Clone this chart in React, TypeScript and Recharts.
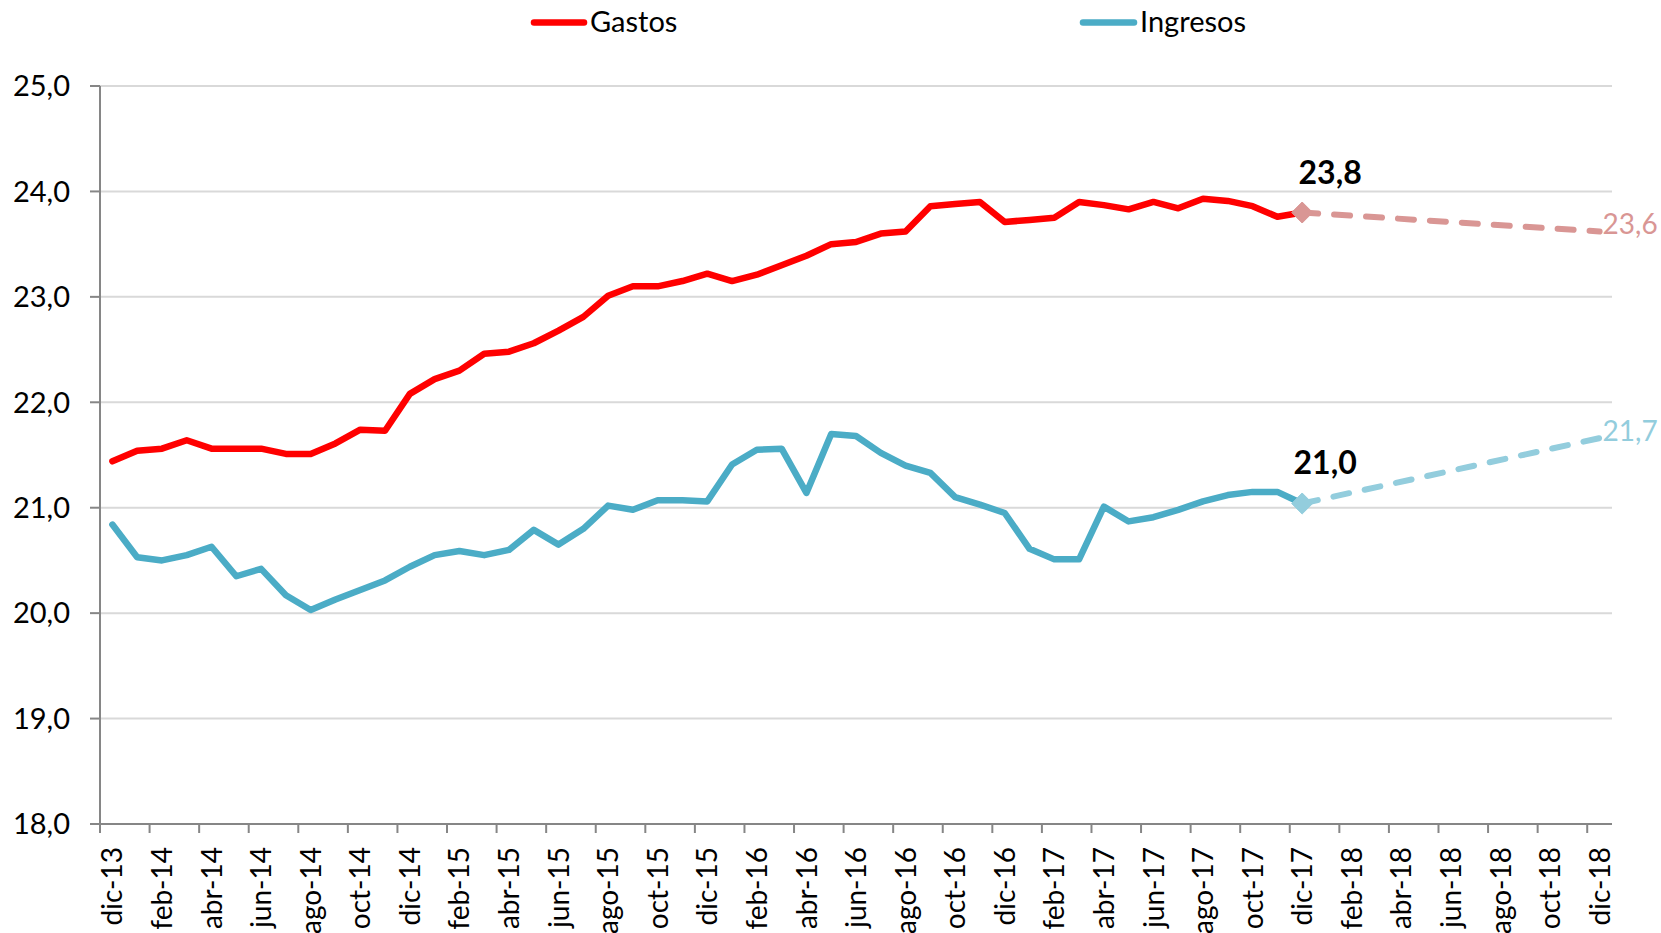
import React from 'react';
import { LineChart, Line, XAxis, YAxis, CartesianGrid, Legend } from 'recharts';

const meses = [
  'dic-13', 'ene-14', 'feb-14', 'mar-14', 'abr-14', 'may-14', 'jun-14', 'jul-14', 'ago-14', 'sep-14', 'oct-14', 'nov-14',
  'dic-14', 'ene-15', 'feb-15', 'mar-15', 'abr-15', 'may-15', 'jun-15', 'jul-15', 'ago-15', 'sep-15', 'oct-15', 'nov-15',
  'dic-15', 'ene-16', 'feb-16', 'mar-16', 'abr-16', 'may-16', 'jun-16', 'jul-16', 'ago-16', 'sep-16', 'oct-16', 'nov-16',
  'dic-16', 'ene-17', 'feb-17', 'mar-17', 'abr-17', 'may-17', 'jun-17', 'jul-17', 'ago-17', 'sep-17', 'oct-17', 'nov-17',
  'dic-17', 'ene-18', 'feb-18', 'mar-18', 'abr-18', 'may-18', 'jun-18', 'jul-18', 'ago-18', 'sep-18', 'oct-18', 'nov-18',
  'dic-18',
];

const gastos = [
  21.44, 21.54, 21.56, 21.64, 21.56, 21.56, 21.56, 21.51, 21.51, 21.61,
  21.74, 21.73, 22.08, 22.22, 22.30, 22.46, 22.48, 22.56, 22.68, 22.81,
  23.01, 23.10, 23.10, 23.15, 23.22, 23.15, 23.21, 23.30, 23.39, 23.50,
  23.52, 23.60, 23.62, 23.86, 23.88, 23.90, 23.71, 23.73, 23.75, 23.90,
  23.87, 23.83, 23.90, 23.84, 23.93, 23.91, 23.86, 23.76, 23.80,
];

const ingresos = [
  20.84, 20.53, 20.50, 20.55, 20.63, 20.35, 20.42, 20.17, 20.03, 20.13,
  20.22, 20.31, 20.44, 20.55, 20.59, 20.55, 20.60, 20.79, 20.65, 20.80,
  21.02, 20.98, 21.07, 21.07, 21.06, 21.41, 21.55, 21.56, 21.14, 21.70,
  21.68, 21.52, 21.40, 21.33, 21.10, 21.03, 20.95, 20.61, 20.51, 20.51,
  21.01, 20.87, 20.91, 20.98, 21.06, 21.12, 21.15, 21.15, 21.04,
];

// projection: [start month, end month]
const proyeccionMeses = ['dic-17', 'dic-18'];
const gastosProyeccion = [23.80, 23.62];
const ingresosProyeccion = [21.04, 21.66];

const yTicks = [18, 19, 20, 21, 22, 23, 24, 25];

const ROJO = '#FF0000';
const AZUL = '#4BACC6';
const ROSA = '#D99694';
const CELESTE = '#93CDDD';
const EJE = '#868686';
const GRID = '#D9D9D9';
const FONT = 'Lato, "Open Sans", sans-serif';

const CHART_W = 1661;
const PLOT_LEFT = 100;
const MARGIN_RIGHT = 49;
const HALF_BAND = (CHART_W - MARGIN_RIGHT - PLOT_LEFT) / meses.length / 2;

const data = meses.map((mes, i) => {
  const pIdx = proyeccionMeses.indexOf(mes);
  return {
    mes,
    gastos: i < gastos.length ? gastos[i] : null,
    ingresos: i < ingresos.length ? ingresos[i] : null,
    gastosProy: pIdx >= 0 ? gastosProyeccion[pIdx] : null,
    ingresosProy: pIdx >= 0 ? ingresosProyeccion[pIdx] : null,
  };
});

const lastIdx = gastos.length - 1;
const fmt = (v: number) => v.toFixed(1).replace('.', ',');

const XTick = (props: any) => {
  const { x, y, payload } = props;
  return (
    <g>
      <line x1={x - HALF_BAND} x2={x - HALF_BAND} y1={y} y2={y + 9} stroke={EJE} strokeWidth={2} />
      <text
        x={x}
        y={y + 23}
        transform={`rotate(-90, ${x}, ${y + 23})`}
        textAnchor="end"
        dy="0.36em"
        fill="#000"
        fontSize={28}
        fontFamily={FONT}
      >
        {payload.value}
      </text>
    </g>
  );
};

const makeDiamond = (color: string) => (props: any) => {
  const { cx, cy, index } = props;
  if (cx == null || cy == null || index !== lastIdx) return <g key={`d-${index}`} />;
  const r = 10.5;
  return (
    <path
      key={`d-${index}`}
      d={`M${cx},${cy - r} L${cx + r},${cy} L${cx},${cy + r} L${cx - r},${cy} Z`}
      fill={color}
      stroke={color}
      strokeWidth={1}
      strokeLinejoin="round"
    />
  );
};

const makeBoldLabel = (dx: number) => (props: any) => {
  const { x, y, value, index } = props;
  if (index !== lastIdx || value == null) return <g key={`bl-${index}`} />;
  return (
    <text key={`bl-${index}`} x={x + dx} y={y - 29} textAnchor="middle" fontWeight="bold" fontSize={32} fontFamily={FONT} fill="#000">
      {fmt(value)}
    </text>
  );
};

const makeEndLabel = (color: string) => (props: any) => {
  const { x, y, value, index } = props;
  if (index !== meses.length - 1 || value == null) return <g key={`el-${index}`} />;
  return (
    <text key={`el-${index}`} x={x + 3} y={y + 3} textAnchor="start" fontSize={28} fontFamily={FONT} fill={color}>
      {fmt(value)}
    </text>
  );
};

const renderLegend = () => (
  <svg width={1661} height={44} style={{ display: 'block' }}>
    <line x1={534} x2={584} y1={22.5} y2={22.5} stroke={ROJO} strokeWidth={6.5} strokeLinecap="round" />
    <text x={590} y={32} fontSize={29} fontFamily={FONT} fill="#000">Gastos</text>
    <line x1={1083} x2={1134} y1={22.5} y2={22.5} stroke={AZUL} strokeWidth={6.5} strokeLinecap="round" />
    <text x={1140} y={32} fontSize={29} fontFamily={FONT} fill="#000">Ingresos</text>
  </svg>
);

export default function App() {
  return (
    <div style={{ position: 'absolute', left: 0, top: 0, width: 1661, height: 933, background: '#fff', fontFamily: FONT }}>
      <LineChart width={CHART_W} height={933} data={data} margin={{ top: 42, right: MARGIN_RIGHT, bottom: 0, left: 0 }}>
        <Legend
          verticalAlign="top"
          align="left"
          wrapperStyle={{ top: 0, left: 0, width: 1661, height: 44 }}
          content={renderLegend}
        />
        <CartesianGrid vertical={false} stroke={GRID} strokeWidth={2} />
        <XAxis
          dataKey="mes"
          interval={1}
          height={109}
          padding={{ left: HALF_BAND, right: HALF_BAND }}
          tickLine={false}
          tickSize={0}
          tickMargin={0}
          axisLine={{ stroke: EJE, strokeWidth: 2 }}
          tick={<XTick />}
        />
        <YAxis
          domain={[18, 25]}
          ticks={yTicks}
          interval={0}
          allowDataOverflow
          width={PLOT_LEFT}
          tickSize={10}
          tickMargin={20}
          tickFormatter={fmt}
          axisLine={{ stroke: EJE, strokeWidth: 2 }}
          tickLine={{ stroke: EJE, strokeWidth: 2 }}
          tick={{ fill: '#000', fontSize: 29, fontFamily: FONT }}
        />
        <Line
          dataKey="gastos"
          stroke={ROJO}
          strokeWidth={6.5}
          dot={false}
          strokeLinejoin="round"
          strokeLinecap="round"
          isAnimationActive={false}
          label={makeBoldLabel(28)}
        />
        <Line
          dataKey="ingresos"
          stroke={AZUL}
          strokeWidth={6.5}
          dot={false}
          strokeLinejoin="round"
          strokeLinecap="round"
          isAnimationActive={false}
          label={makeBoldLabel(23)}
        />
        <Line
          dataKey="gastosProy"
          stroke={ROSA}
          strokeWidth={6}
          strokeDasharray="16 16"
          strokeLinecap="round"
          connectNulls
          dot={makeDiamond(ROSA)}
          activeDot={false}
          isAnimationActive={false}
          label={makeEndLabel(ROSA)}
        />
        <Line
          dataKey="ingresosProy"
          stroke={CELESTE}
          strokeWidth={6}
          strokeDasharray="16 16"
          strokeLinecap="round"
          connectNulls
          dot={makeDiamond(CELESTE)}
          activeDot={false}
          isAnimationActive={false}
          label={makeEndLabel(CELESTE)}
        />
      </LineChart>
    </div>
  );
}
